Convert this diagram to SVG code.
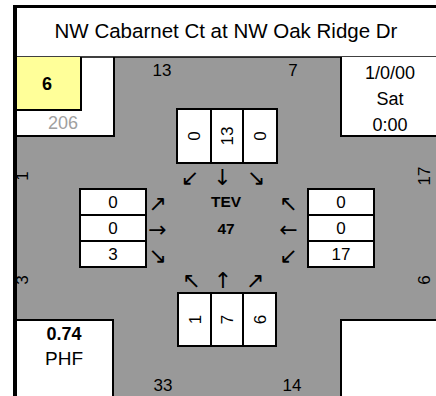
<svg xmlns="http://www.w3.org/2000/svg" width="436" height="396" viewBox="0 0 436 396">
<style>
text{font-family:"Liberation Sans",Arial,sans-serif;fill:#000;text-anchor:middle}
.n{font-size:17px}
.b{font-weight:bold}
.g{fill:#a0a0a0}
.arr{font-family:"DejaVu Sans",sans-serif;font-size:22px;dominant-baseline:central}
.box{fill:#fff;stroke:#000;stroke-width:2}
.ln{stroke:#000;stroke-width:2;fill:none}
</style>
<rect width="436" height="396" fill="#fff"/>
<g id="road">
<rect x="114" y="57" width="227" height="339" fill="#999"/>
<rect x="15" y="136" width="421" height="184" fill="#999"/>
</g>
<g id="header">
<rect x="15" y="7" width="421" height="50" fill="#fff"/>
<line x1="15" y1="57" x2="436" y2="57" stroke="#000" stroke-width="1.5"/>
<text x="226" y="38" style="font-size:20.5px">NW Cabarnet Ct at NW Oak Ridge Dr</text>
</g>
<g id="corner-tl">
<path class="ln" d="M15 136H114V57"/>
<rect x="15" y="57" width="66" height="53" fill="#ffff99"/>
<path class="ln" d="M15 110H81V57"/>
<text class="n b" x="47" y="90" style="font-size:18px">6</text>
<text class="n g" x="63" y="129" style="font-size:18px">206</text>
</g>
<g id="corner-tr">
<rect x="341" y="57" width="95" height="79" fill="#fff"/>
<path class="ln" d="M341 57V136H436"/>
<text x="390" y="79" style="font-size:18px">1/0/00</text>
<text x="390" y="105" style="font-size:18px">Sat</text>
<text x="390" y="131" style="font-size:18px">0:00</text>
</g>
<g id="corner-bl">
<rect x="15" y="320" width="98" height="76" fill="#fff"/>
<path class="ln" d="M15 320H113V396"/>
<text class="b" x="64" y="340" style="font-size:18px">0.74</text>
<text x="64" y="365" style="font-size:19px">PHF</text>
</g>
<g id="corner-br">
<rect x="341" y="320" width="95" height="76" fill="#fff"/>
<path class="ln" d="M341 396V320H436"/>
</g>
<g id="frame">
<rect x="13" y="5" width="423" height="3" fill="#000"/>
<rect x="13" y="5" width="4" height="391" fill="#000"/>
</g>
<g id="leg-labels">
<text class="n" x="162" y="76">13</text>
<text class="n" x="293" y="76">7</text>
<text class="n" x="163" y="391">33</text>
<text class="n" x="292" y="391">14</text>
<text class="n" x="22" y="182" transform="rotate(-90 22 176)">1</text>
<text class="n" x="22" y="286" transform="rotate(-90 22 280)">3</text>
<text class="n" x="424" y="182" transform="rotate(-90 424 176)">17</text>
<text class="n" x="424" y="286" transform="rotate(-90 424 280)">6</text>
</g>
<g id="north-approach">
<rect class="box" x="177" y="109" width="100" height="54"/>
<path class="ln" d="M211 109V163M243 109V163"/>
<text class="n" x="194" y="142" transform="rotate(-90 194 136)">0</text>
<text class="n" x="227" y="142" transform="rotate(-90 227 136)">13</text>
<text class="n" x="260" y="142" transform="rotate(-90 260 136)">0</text>
</g>
<g id="south-approach">
<rect class="box" x="178" y="293" width="98" height="53"/>
<path class="ln" d="M211 293V346M243 293V346"/>
<text class="n" x="194.5" y="325.5" transform="rotate(-90 194.5 319.5)">1</text>
<text class="n" x="227" y="325.5" transform="rotate(-90 227 319.5)">7</text>
<text class="n" x="259.5" y="325.5" transform="rotate(-90 259.5 319.5)">6</text>
</g>
<g id="west-approach">
<rect class="box" x="80" y="189" width="66" height="78"/>
<path class="ln" d="M80 215H146M80 241H146"/>
<text class="n" x="113" y="208">0</text>
<text class="n" x="113" y="234">0</text>
<text class="n" x="113" y="260">3</text>
</g>
<g id="east-approach">
<rect class="box" x="308" y="189" width="66" height="78"/>
<path class="ln" d="M308 215H374M308 241H374"/>
<text class="n" x="341" y="208">0</text>
<text class="n" x="341" y="234">0</text>
<text class="n" x="341" y="260">17</text>
</g>
<g id="center">
<text class="b" x="226" y="207" style="font-size:15.5px">TEV</text>
<text class="b" x="226" y="234" style="font-size:15.5px">47</text>
</g>
<g id="connectors">
<text class="arr" x="190" y="177">↙</text>
<text class="arr" x="222.5" y="177">↓</text>
<text class="arr" x="256" y="177">↘</text>
<text class="arr" x="157.5" y="203">↗</text>
<text class="arr" x="157.5" y="229">→</text>
<text class="arr" x="157.5" y="255">↘</text>
<text class="arr" x="288.5" y="203">↖</text>
<text class="arr" x="288.5" y="229">←</text>
<text class="arr" x="288.5" y="255">↙</text>
<text class="arr" x="191.5" y="280.5">↖</text>
<text class="arr" x="223" y="280.5">↑</text>
<text class="arr" x="255" y="280.5">↗</text>
</g>
</svg>
